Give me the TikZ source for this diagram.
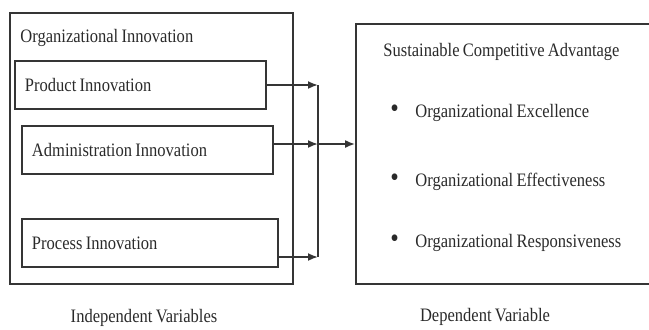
\documentclass[tikz,border=0pt]{standalone}
\usepackage{fontspec}
\setmainfont[FakeStretch=0.87,WordSpace=0.8]{Liberation Serif}
\usetikzlibrary{arrows.meta,positioning,calc}
\definecolor{FrameGray}{HTML}{353535}
\definecolor{TextGray}{HTML}{2A2A2A}
\newcommand{\bigdot}{\makebox[12.5pt][l]{\fontsize{14}{11}\selectfont\textbullet}}
\tikzset{
  outerbox/.style={draw=FrameGray,line width=0.9pt,inner sep=0pt},
  varbox/.style={draw=FrameGray,line width=0.9pt,align=flush left,inner xsep=5pt,inner ysep=0pt,minimum height=24pt,text=TextGray,font=\fontsize{9.5}{11}\selectfont},
  plainlabel/.style={inner sep=0pt,text=TextGray,font=\fontsize{9.5}{11}\selectfont},
  flowarrow/.style={-{Latex[length=5pt,width=4pt]},line width=0.9pt,draw=FrameGray},
  joinline/.style={line width=0.9pt,draw=FrameGray}
}
\begin{document}
\begin{tikzpicture}[x=0.5pt,y=-0.5pt]
\useasboundingbox (0,0) rectangle (649,329);
\clip (0,0) rectangle (649,329);
% independent side
\node[outerbox,minimum width=141.5pt,minimum height=135.5pt] (iv) at (151.5,148.5) {};
\node[plainlabel,anchor=west] (ivtitle) at (20,38) {Organizational Innovation};
\node[varbox,text width=115.5pt] (prod) at (140.5,85) {Product Innovation};
\node[varbox,text width=115.5pt] (adm) at (147.5,150) {Administration Innovation};
\node[varbox,text width=118pt] (proc) at (150,243) {Process Innovation};
\node[plainlabel] (ivcap) at (144,318) {Independent Variables};
% dependent side
\node[outerbox,minimum width=172pt,minimum height=130pt] (sca) at (528,154) {};
\node[plainlabel,anchor=west] (scatitle) at (383,52) {Sustainable Competitive Advantage};
\node[plainlabel,anchor=west] (exc) at (390,113) {\bigdot Organizational Excellence};
\node[plainlabel,anchor=west] (eff) at (390,182) {\bigdot Organizational Effectiveness};
\node[plainlabel,anchor=west] (resp) at (390,243) {\bigdot Organizational Responsiveness};
\node[plainlabel] (dvcap) at (485,317) {Dependent Variable};
% connectors
\coordinate (jn) at (318,144);
\coordinate (pa) at ([yshift=-7pt]proc.east);
\draw[flowarrow] (prod.east) -- (prod.east -| jn);
\draw[flowarrow] (adm.east |- jn) -- (jn);
\draw[flowarrow] (pa) -- (pa -| jn);
\draw[joinline] (prod.east -| jn) -- (pa -| jn);
\draw[flowarrow] (jn) -- (sca.west |- jn);
\end{tikzpicture}
\end{document}
